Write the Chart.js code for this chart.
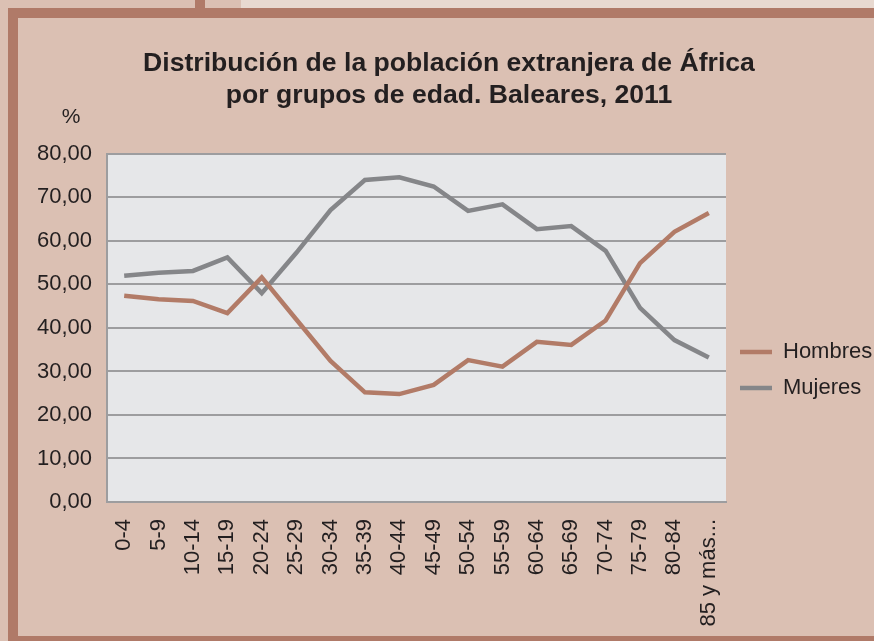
<!DOCTYPE html>
<html>
<head>
<meta charset="utf-8">
<script src="https://cdn.jsdelivr.net/npm/chart.js@4/dist/chart.umd.min.js"></script>
<style>
  body { margin: 0; background: #dbc0b3; }
  #wrap { position: relative; width: 874px; height: 641px; overflow: hidden; background: #dbc0b3; }
  .band { position: absolute; background: #b07a68; }
  #strip { position: absolute; left: 241px; top: 0; width: 633px; height: 8px; background: #e8d9d0; }
  canvas { position: absolute; left: 0; top: 0; }
</style>
</head>
<body>
<div id="wrap">
  <div id="strip"></div>
  <div class="band" style="left:195px;top:0;width:10px;height:8px"></div>
  <div class="band" style="left:8px;top:8px;width:866px;height:10px"></div>
  <div class="band" style="left:8px;top:8px;width:10px;height:633px"></div>
  <div class="band" style="left:8px;top:636px;width:866px;height:5px"></div>
  <canvas id="lineChart" width="874" height="641"></canvas>
</div>
<script>
// grupos de edad
const ageGroups = ["0-4", "5-9", "10-14", "15-19", "20-24", "25-29", "30-34", "35-39", "40-44",
  "45-49", "50-54", "55-59", "60-64", "65-69", "70-74", "75-79", "80-84", "85 y más..."];

// % por sexo
const hombres = [47.4, 46.6, 46.2, 43.4, 51.6, 42.0, 32.4, 25.2, 24.8, 26.9, 32.6, 31.1, 36.8, 36.1, 41.7, 54.9, 62.1, 66.4];
const mujeres = [52.0, 52.7, 53.1, 56.2, 48.0, 57.2, 67.1, 74.0, 74.6, 72.5, 66.9, 68.4, 62.7, 63.4, 57.7, 44.6, 37.2, 33.2];

const yMin = 0;
const yMax = 80;
const yStep = 10;

const textColor = "#231f20";
const fontFamily = "'Liberation Sans', Arial, sans-serif";

// fondo gris del área del gráfico y el símbolo "%"
const plotBackground = {
  id: "plotBackground",
  beforeDraw(chart) {
    const { ctx, chartArea } = chart;
    ctx.save();
    ctx.fillStyle = "#e6e7e9";
    ctx.fillRect(chartArea.left, chartArea.top, chartArea.right - chartArea.left, chartArea.bottom - chartArea.top);
    ctx.restore();
  },
  afterDraw(chart) {
    const ctx = chart.ctx;
    ctx.save();
    ctx.fillStyle = textColor;
    ctx.font = "21px " + fontFamily;
    ctx.textAlign = "center";
    ctx.textBaseline = "middle";
    ctx.fillText("%", 71, 117);
    ctx.restore();
  }
};

const ctx = document.getElementById("lineChart").getContext("2d");
new Chart(ctx, {
  type: "line",
  data: {
    labels: ageGroups,
    datasets: [
      {
        label: "Hombres",
        data: hombres,
        borderColor: "#b27b67",
        backgroundColor: "#b27b67",
        borderWidth: 4.5,
        pointRadius: 0,
        tension: 0,
        fill: false,
      },
      {
        label: "Mujeres",
        data: mujeres,
        borderColor: "#858689",
        backgroundColor: "#858689",
        borderWidth: 4.5,
        pointRadius: 0,
        tension: 0,
        fill: false,
      },
    ],
  },
  options: {
    responsive: false,
    maintainAspectRatio: false,
    animation: false,
    layout: {
      padding: { top: 12, left: 24, right: 0, bottom: 0 },
    },
    plugins: {
      title: {
        display: true,
        text: ["Distribución de la población extranjera de África", "por grupos de edad. Baleares, 2011"],
        color: textColor,
        font: { family: fontFamily, size: 26.6, weight: "bold", lineHeight: 1.2 },
        padding: { top: 36, bottom: 42 },
      },
      legend: {
        position: "right",
        fullSize: false,
        maxWidth: 148,
        title: {
          display: true,
          text: "",
          font: { size: 10, lineHeight: 1 },
          padding: { top: 74, bottom: 0 },
        },
        labels: {
          usePointStyle: true,
          pointStyle: "line",
          pointStyleWidth: 32,
          padding: 14,
          color: textColor,
          font: { family: fontFamily, size: 22 },
        },
      },
      tooltip: { enabled: false },
    },
    scales: {
      x: {
        offset: true,
        afterFit(scale) {
          scale.height = 139;
        },
        grid: { display: false, drawTicks: false },
        border: { display: true, color: "#9d9d9f", width: 2 },
        ticks: {
          autoSkip: false,
          minRotation: 90,
          maxRotation: 90,
          padding: 17,
          color: textColor,
          font: { family: fontFamily, size: 22 },
        },
      },
      y: {
        min: yMin,
        max: yMax,
        afterFit(scale) {
          scale.width = 83;
        },
        grid: { color: "#9d9d9f", lineWidth: 2, drawTicks: false },
        border: { display: true, color: "#9d9d9f", width: 2 },
        ticks: {
          stepSize: yStep,
          padding: 15,
          color: textColor,
          font: { family: fontFamily, size: 22 },
          callback: function (value) {
            return value.toFixed(2).replace(".", ",");
          },
        },
      },
    },
  },
  plugins: [plotBackground],
});
</script>
</body>
</html>
